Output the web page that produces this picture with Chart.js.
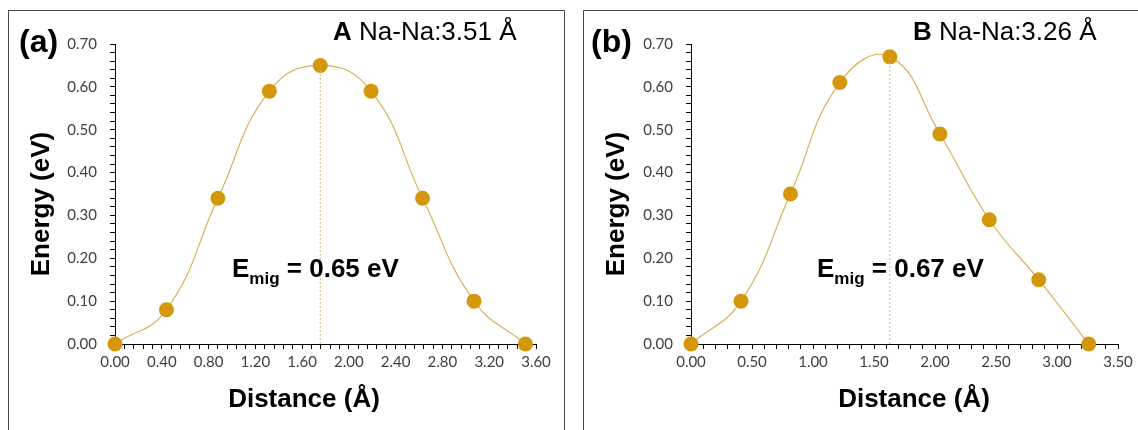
<!DOCTYPE html>
<html>
<head>
<meta charset="utf-8">
<script src="https://cdn.jsdelivr.net/npm/chart.js@4"></script>
<style>
  body { margin: 0; width: 1138px; height: 430px; background: #fff; overflow: hidden; position: relative; font-family: "Liberation Sans", Arial, sans-serif; }
  .frame { position: absolute; border: 1.5px solid #4a4a4a; box-sizing: border-box; }
  .holder { position: absolute; }
  .lbl { position: absolute; white-space: nowrap; color: #000; line-height: 1; }
  .tag { font-size: 32px; font-weight: bold; }
  .site { font-size: 26px; }
  .emig { font-size: 26px; font-weight: bold; }
  .emig sub { font-size: 17px; vertical-align: -7px; line-height: 1; }
  .axt { font-size: 26px; font-weight: bold; width: 200px; text-align: center; }
  .axt.rot { transform: rotate(-90deg); transform-origin: 50% 50%; }
</style>
</head>
<body>
<div class="frame" style="left:8px; top:10px; width:557px; height:440px;"></div>
<div class="frame" style="left:583px; top:10px; width:580px; height:440px;"></div>

<div class="holder" style="left:8px; top:10px;"><canvas id="chartA" width="556" height="420"></canvas></div>
<div class="holder" style="left:584px; top:10px;"><canvas id="chartB" width="560" height="420"></canvas></div>

<div class="lbl tag" style="left:19px; top:25px;">(a)</div>
<div class="lbl tag" style="left:591px; top:25px;">(b)</div>
<div class="lbl site" style="left:333px; top:18px;"><b>A</b> Na-Na:3.51 Å</div>
<div class="lbl site" style="left:913px; top:18px;"><b>B</b> Na-Na:3.26 Å</div>
<div class="lbl emig" style="left:232px; top:255px;">E<sub>mig</sub> = 0.65 eV</div>
<div class="lbl emig" style="left:817px; top:255px;">E<sub>mig</sub> = 0.67 eV</div>

<div class="lbl axt" style="left:204px; top:385px;">Distance (Å)</div>
<div class="lbl axt" style="left:814px; top:385px;">Distance (Å)</div>
<div class="lbl axt rot" style="left:-60px; top:191px;">Energy (eV)</div>
<div class="lbl axt rot" style="left:515px; top:191px;">Energy (eV)</div>

<script>
// panel (a): site A, Na-Na 3.51 Å
const distA = [0, 0.44, 0.88, 1.32, 1.755, 2.19, 2.63, 3.07, 3.51];
const energyA = [0, 0.08, 0.34, 0.59, 0.65, 0.59, 0.34, 0.10, 0.00];
// panel (b): site B, Na-Na 3.26 Å
const distB = [0, 0.41, 0.815, 1.22, 1.63, 2.04, 2.445, 2.85, 3.26];
const energyB = [0, 0.10, 0.35, 0.61, 0.67, 0.49, 0.29, 0.15, 0.00];

const peakA = [1.755, 0.65];
const peakB = [1.63, 0.67];

const xTicksA = { max: 3.6, major: 0.4, minor: 0.08 };
const xTicksB = { max: 3.5, major: 0.5, minor: 0.1 };
const yTicks = { max: 0.7, major: 0.1, minor: 0.02 };

const gold = '#d4960a';
const goldLine = '#d9b15a';
const tickFont = { family: 'Lato, "Open Sans", sans-serif', size: 15 };

function isMajor(v, step) {
  const r = v / step;
  return Math.abs(r - Math.round(r)) < 1e-6;
}

function makePanel(id, xs, ys, peak, xt, rightPad) {
  const pts = xs.map((x, i) => ({ x: x, y: ys[i] }));
  new Chart(document.getElementById(id), {
    type: 'line',
    data: {
      datasets: [
        {
          data: [{ x: peak[0], y: 0 }, { x: peak[0], y: peak[1] }],
          borderColor: '#d9b86a',
          borderWidth: 1,
          borderDash: [2, 2],
          pointRadius: 0,
          tension: 0
        },
        {
          data: pts,
          borderColor: goldLine,
          borderWidth: 1.2,
          tension: 0.45,
          pointRadius: 7.5,
          pointBackgroundColor: gold,
          pointBorderColor: gold,
          pointBorderWidth: 0,
          clip: false
        }
      ]
    },
    options: {
      responsive: false,
      animation: false,
      layout: { padding: { left: 0, top: 34, right: rightPad, bottom: 0 } },
      plugins: { legend: { display: false }, tooltip: { enabled: false } },
      scales: {
        x: {
          type: 'linear',
          min: 0,
          max: xt.max,
          afterFit: s => { s.height = 86; },
          border: { display: true, color: '#000', width: 1 },
          grid: { drawOnChartArea: false, drawTicks: true, tickLength: 5, color: '#000' },
          ticks: {
            stepSize: xt.minor,
            autoSkip: false,
            maxRotation: 0,
            padding: 4,
            color: '#404040',
            font: tickFont,
            callback: v => isMajor(v, xt.major) ? v.toFixed(2) : ''
          }
        },
        y: {
          min: 0,
          max: yTicks.max,
          afterFit: s => { s.width = 107; },
          border: { display: true, color: '#000', width: 1 },
          grid: { drawOnChartArea: false, drawTicks: true, tickLength: 5, color: '#000' },
          ticks: {
            stepSize: yTicks.minor,
            autoSkip: false,
            padding: 13,
            color: '#404040',
            font: tickFont,
            callback: v => isMajor(v, yTicks.major) ? v.toFixed(2) : ''
          }
        }
      }
    }
  });
}

makePanel('chartA', distA, energyA, peakA, xTicksA, 28);
makePanel('chartB', distB, energyB, peakB, xTicksB, 26);
</script>
</body>
</html>
